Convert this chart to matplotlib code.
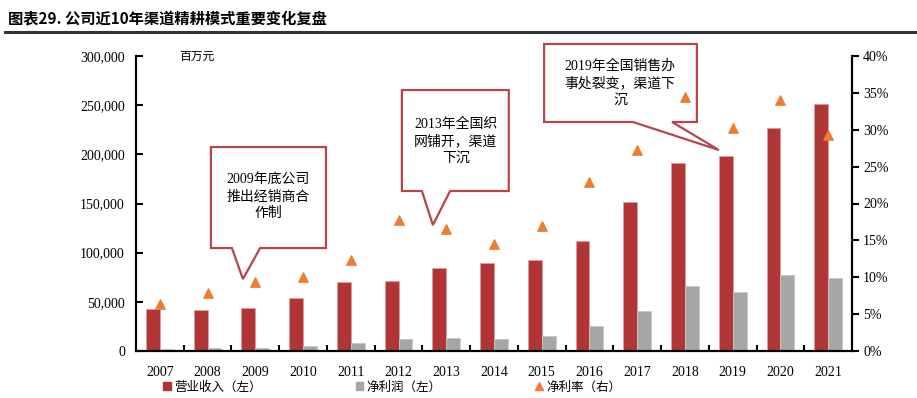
import numpy as np
import matplotlib
matplotlib.use('Agg')
import matplotlib.pyplot as plt
from matplotlib.patches import Polygon, Patch
from matplotlib.lines import Line2D
from matplotlib.ticker import FuncFormatter, PercentFormatter

plt.rcParams['font.family'] = ['Liberation Serif', 'Noto Sans CJK SC']

years = ['2007', '2008', '2009', '2010', '2011', '2012', '2013', '2014',
         '2015', '2016', '2017', '2018', '2019', '2020', '2021']
revenue = [42700, 41700, 43400, 54200, 70100, 70800, 84000, 89700,
           92200, 111800, 151400, 191000, 198200, 226600, 251300]
profit = [2000, 2700, 3300, 5000, 8100, 12200, 13200, 12600,
          15000, 25400, 40300, 65900, 59700, 76900, 74000]
margin = [6.4, 7.9, 9.3, 10.1, 12.4, 17.8, 16.5, 14.5,
          16.9, 22.9, 27.2, 34.5, 30.3, 34.1, 29.3]

notes = ['2009年底公司\n推出经销商合\n作制',
         '2013年全国织\n网铺开，渠道\n下沉',
         '2019年全国销售办\n事处裂变，渠道下\n沉']

RED = '#B03636'
GRAY = '#A6A6A6'
ORANGE = '#ED7D31'
BOX = '#B5464B'

fig = plt.figure(figsize=(9.17, 3.98), dpi=100)
ax = fig.add_axes([136 / 917, 47 / 398, 716 / 917, 295 / 398])
x = np.arange(len(years))
w = 0.29
ax.bar(x - w / 2, revenue, w, color=RED, edgecolor='#E39A9A', lw=0.6, label='营业收入（左）')
ax.bar(x + w / 2, profit, w, color=GRAY, edgecolor='#C8C8C8', lw=0.6, label='净利润（左）')
ax.set_xlim(-0.5, len(years) - 0.5)
ax.set_ylim(0, 300000)
ax.set_yticks(np.arange(0, 300001, 50000))
ax.yaxis.set_major_formatter(FuncFormatter(lambda v, p: f'{int(v):,}'))
ax.set_xticks(x)
ax.set_xticklabels(years)
ax.set_xticks(np.arange(0.5, len(years) - 1, 1), minor=True)
ax.tick_params(axis='x', which='major', length=0, pad=11, labelsize=10)
ax.tick_params(axis='x', which='minor', direction='in', length=4, width=1.5)
ax.tick_params(axis='y', direction='in', length=5, width=1.5, pad=8, labelsize=10)
ax.spines['top'].set_visible(False)
for s in ['left', 'bottom', 'right']:
    ax.spines[s].set_linewidth(1.5)

ax.text(0.4, 300000, '百万元', fontsize=8.5, va='center', ha='left',
        family=['Noto Sans CJK SC'])

# callouts: box corners, tail base and tip in data units
boxes = [
    dict(x0=1.07, x1=3.48, y0=104700, y1=207400, t0=1.51, t1=2.10, tip=(1.74, 73200),
         tx=2.27, ty=156600),
    dict(x0=5.07, x1=7.31, y0=162700, y1=265400, t0=5.49, t1=6.08, tip=(5.72, 128100),
         tx=6.20, ty=213500),
    dict(x0=8.05, x1=11.25, y0=232900, y1=312200, t0=9.91, t1=10.73, tip=(11.71, 204400),
         tx=9.64, ty=272500),
]
for b, txt in zip(boxes, notes):
    pts = [(b['x0'], b['y1']), (b['x1'], b['y1']), (b['x1'], b['y0']),
           (b['t1'], b['y0']), b['tip'], (b['t0'], b['y0']), (b['x0'], b['y0'])]
    ax.add_patch(Polygon(pts, closed=True, facecolor='white', edgecolor=BOX,
                         lw=1.6, clip_on=False, zorder=5))
    ax.text(b['tx'], b['ty'], txt, ha='center', va='center', fontsize=10,
            linespacing=1.35, zorder=6)

ax2 = ax.twinx()
ax2.scatter(x, margin, marker='^', s=45, color=ORANGE, zorder=7, label='净利率（右）')
ax2.set_ylim(0, 40)
ax2.set_yticks(np.arange(0, 41, 5))
ax2.yaxis.set_major_formatter(PercentFormatter(decimals=0))
ax2.tick_params(axis='y', direction='out', length=5, width=1.5, pad=3, labelsize=10)
ax2.spines['top'].set_visible(False)
for s in ['left', 'bottom', 'right']:
    ax2.spines[s].set_linewidth(1.5)

handles = [Patch(color=RED), Patch(color=GRAY),
           Line2D([], [], marker='^', color=ORANGE, ls='none', markersize=6)]
labels = ['营业收入（左）', '净利润（左）', '净利率（右）']
fig.legend(handles, labels, ncol=3, frameon=False, loc='center left',
           bbox_to_anchor=(163 / 917, 1 - 387 / 398), borderpad=0, borderaxespad=0,
           handlelength=0.6, handleheight=0.6, handletextpad=0.3, columnspacing=7.5,
           prop={'family': ['Noto Sans CJK SC'], 'size': 9})

fig.text(8 / 917, 1 - 18 / 398, '图表29. 公司近10年渠道精耕模式重要变化复盘',
         fontsize=11, fontweight='bold', va='center', ha='left',
         family=['Noto Sans CJK SC'])
fig.add_artist(Line2D([5 / 917, 1], [1 - 32 / 398] * 2, transform=fig.transFigure,
                      color='#333333', lw=2.2))

fig.savefig('out.png', dpi=100)
